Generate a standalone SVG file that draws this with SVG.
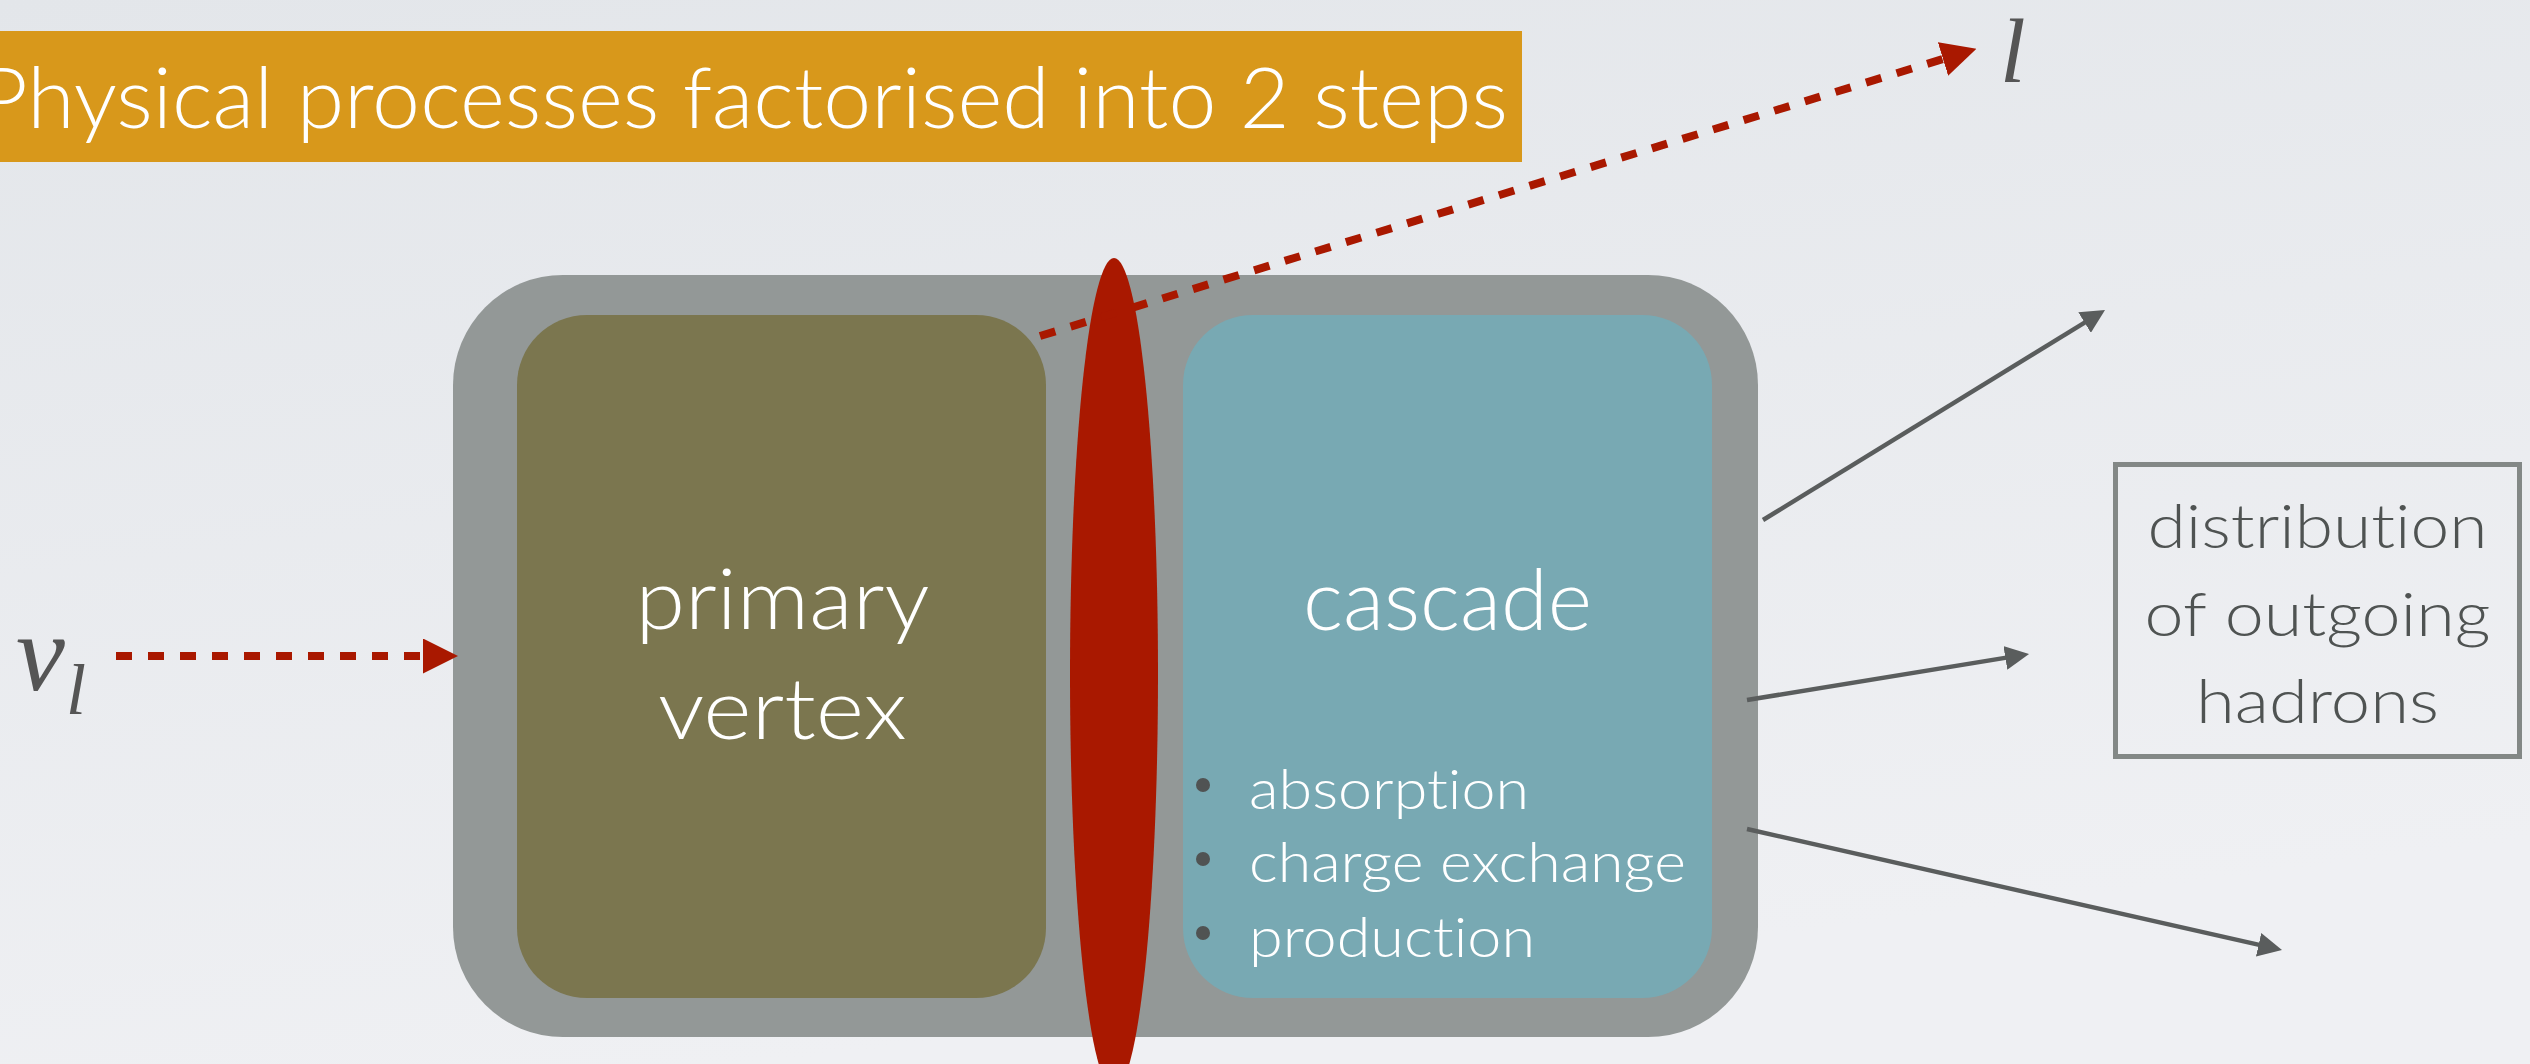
<svg xmlns="http://www.w3.org/2000/svg" width="2530" height="1064" viewBox="0 0 2530 1064">
  <defs>
    <linearGradient id="bg" x1="0" y1="0" x2="0.3" y2="1">
      <stop offset="0" stop-color="#E3E6EA"/>
      <stop offset="1" stop-color="#EFF0F3"/>
    </linearGradient>
    <!-- red triangular head for the lepton / neutrino lines (base at path end) -->
    <marker id="redHead" markerUnits="userSpaceOnUse" viewBox="0 0 35 35" markerWidth="35" markerHeight="35" refX="0" refY="17.5" orient="auto">
      <path d="M0,0 L35,17.5 L0,35 Z" fill="#A91800"/>
    </marker>
    <!-- dark grey head for hadron arrows (centred on path end) -->
    <marker id="greyHead" markerUnits="userSpaceOnUse" viewBox="0 0 24 24" markerWidth="24" markerHeight="24" refX="12" refY="12" orient="auto">
      <path d="M0,0 L24,12 L0,24 Z" fill="#5A5D5D"/>
    </marker>
    <style>
      .sans { font-family: Lato, "Open Sans", "Liberation Sans", sans-serif; font-weight: 300; font-variant-ligatures: none; }
      .white { fill: #FFFFFF; }
      .math { font-family: "Liberation Serif", "DejaVu Serif", serif; font-style: italic; fill: #555555; }
      .dashed { fill: none; stroke: #A91800; stroke-width: 8; stroke-dasharray: 16 16; marker-end: url(#redHead); }
      .hadron { fill: none; stroke: #5A5D5D; stroke-width: 4.5; marker-end: url(#greyHead); }
      .bullet { fill: #505353; }
    </style>
  </defs>

  <rect x="0" y="0" width="2530" height="1064" fill="url(#bg)"/>

  <!-- title banner -->
  <g id="title">
    <rect x="0" y="31" width="1522" height="131" fill="#D8981B"/>
    <text class="sans white" x="-22" y="128" font-size="84" textLength="1530" lengthAdjust="spacingAndGlyphs">Physical processes factorised into 2 steps</text>
  </g>

  <!-- nucleus container -->
  <g id="nucleus">
    <rect x="453" y="275" width="1305" height="762" rx="110" ry="110" fill="#939897"/>
  </g>

  <g id="primary-vertex">
    <rect x="517" y="315" width="529" height="683" rx="70" ry="70" fill="#7B764F"/>
    <text class="sans white" x="782.5" y="629" font-size="84" text-anchor="middle" textLength="294" lengthAdjust="spacingAndGlyphs">primary</text>
    <text class="sans white" x="782.5" y="739" font-size="84" text-anchor="middle" textLength="249" lengthAdjust="spacingAndGlyphs">vertex</text>
  </g>

  <g id="cascade">
    <rect x="1183" y="315" width="529" height="683" rx="70" ry="70" fill="#78A9B3"/>
    <text class="sans white" x="1447.5" y="630" font-size="84" text-anchor="middle" textLength="289" lengthAdjust="spacingAndGlyphs">cascade</text>
    <circle class="bullet" cx="1203" cy="785" r="7"/>
    <circle class="bullet" cx="1203" cy="859" r="7"/>
    <circle class="bullet" cx="1203" cy="933" r="7"/>
    <text class="sans white" x="1249" y="809" font-size="56" textLength="280" lengthAdjust="spacingAndGlyphs">absorption</text>
    <text class="sans white" x="1249" y="882" font-size="56" textLength="437" lengthAdjust="spacingAndGlyphs">charge exchange</text>
    <text class="sans white" x="1249" y="957" font-size="56" textLength="286" lengthAdjust="spacingAndGlyphs">production</text>
  </g>

  <!-- factorisation boundary between the two steps -->
  <g id="boundary">
    <ellipse cx="1114" cy="674" rx="44" ry="416" fill="#A91800"/>
  </g>

  <g id="nu-label">
    <text class="math" x="16" y="690" font-size="110">ν</text>
    <text class="math" x="66" y="714" font-size="72">l</text>
  </g>

  <g id="lepton-label">
    <text class="math" x="2000" y="82" font-size="92">l</text>
  </g>

  <g id="hadron-distribution">
    <rect x="2115.5" y="464.5" width="404" height="292" fill="none" stroke="#838886" stroke-width="5"/>
    <text class="sans" fill="#4F5352" x="2317.5" y="548" font-size="62" text-anchor="middle" textLength="340" lengthAdjust="spacingAndGlyphs">distribution</text>
    <text class="sans" fill="#4F5352" x="2317.5" y="636" font-size="62" text-anchor="middle" textLength="346" lengthAdjust="spacingAndGlyphs">of outgoing</text>
    <text class="sans" fill="#4F5352" x="2317.5" y="723" font-size="62" text-anchor="middle" textLength="243" lengthAdjust="spacingAndGlyphs">hadrons</text>
  </g>

  <g id="connectors">
    <path class="dashed" d="M116,656 L423,656"/>
    <path class="dashed" d="M1040,336 L1943,59"/>
    <path class="hadron" d="M1763,520 L2094.8,316.3"/>
    <path class="hadron" d="M1747,700 L2017.2,655.9"/>
    <path class="hadron" d="M1747,829 L2270.3,947.4"/>
  </g>
</svg>
